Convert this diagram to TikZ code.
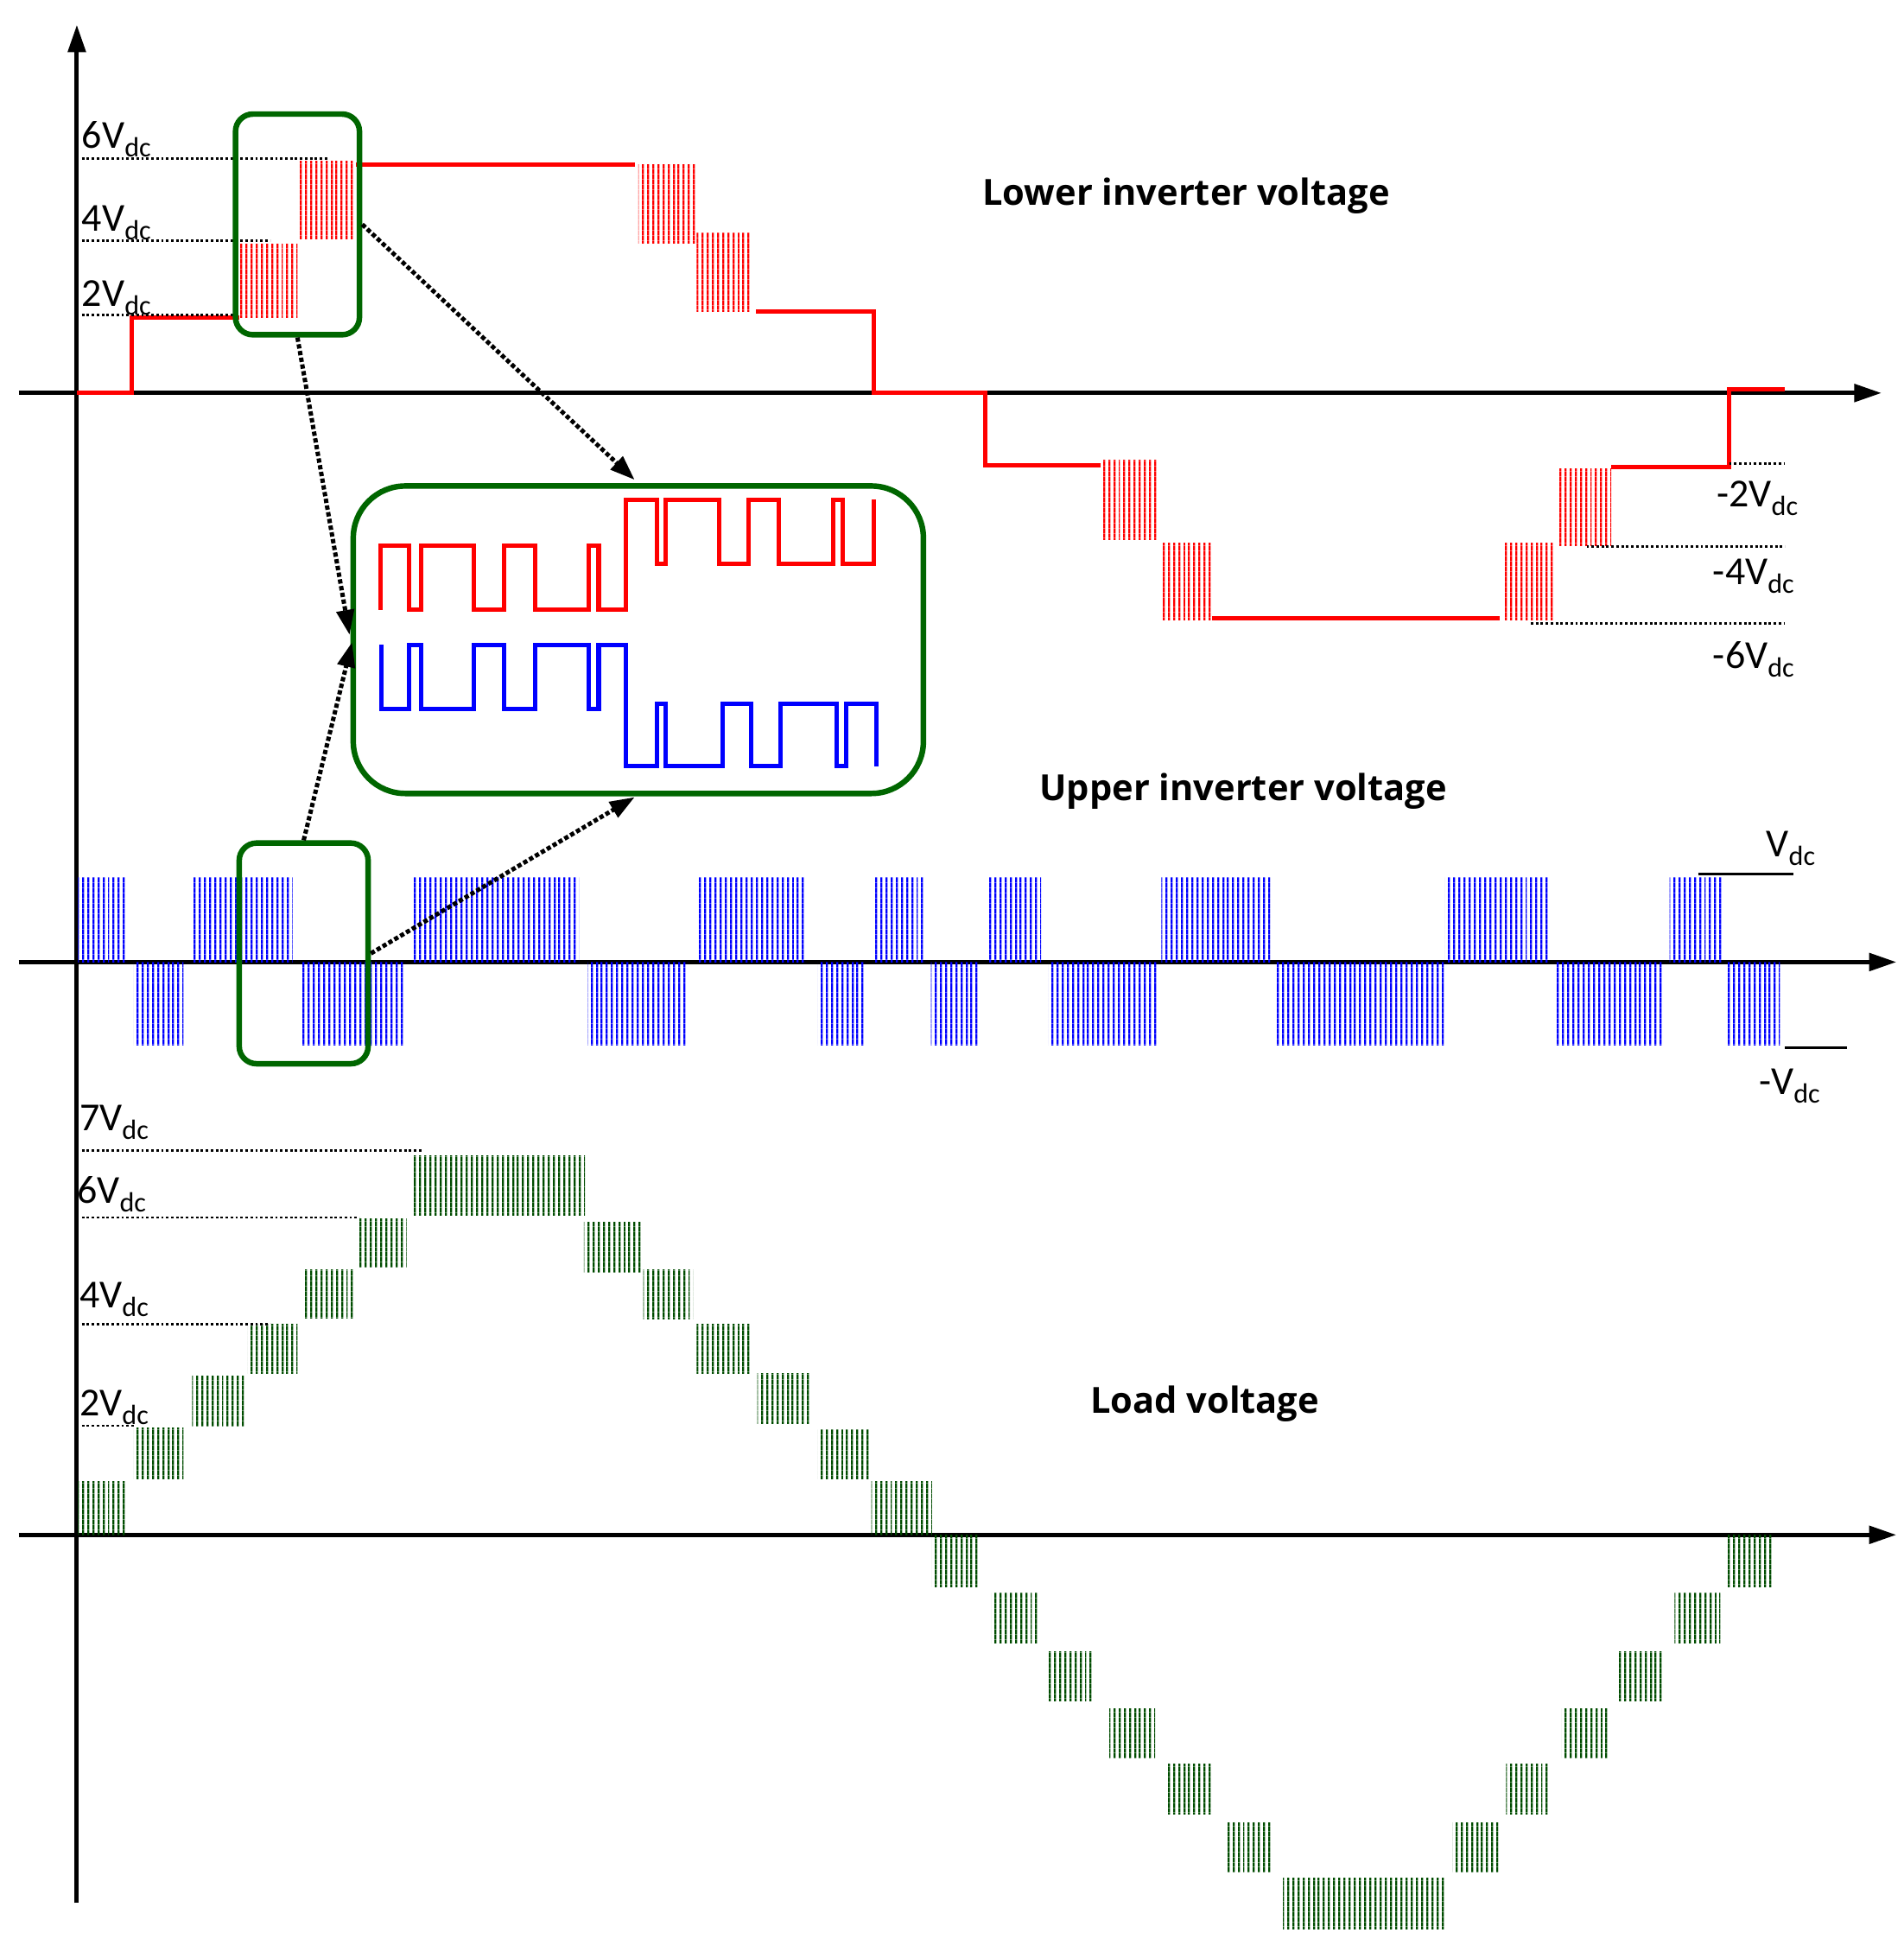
\documentclass[tikz,border=0pt]{standalone}
\usepackage{fontspec}
\setmainfont{Carlito}
\newfontfamily\tf{Open Sans}
\usetikzlibrary{patterns.meta,arrows.meta}
\begin{document}
\begin{tikzpicture}[x=1pt,y=-1pt,
 ax/.style={line width=3.5pt,-{Triangle[length=22pt,width=14pt]}},
 hr/.style={pattern={Lines[angle=90,distance=4pt,line width=1.7pt]},pattern color=red},
 hbl/.style={pattern={Lines[angle=90,distance=4pt,line width=1.7pt]},pattern color=blue},
 hg/.style={pattern={Lines[angle=90,distance=4pt,line width=1.7pt]},pattern color=green!30!black},
 dt/.style={dotted,line width=2pt},
 lb/.style={font=\fontsize{32}{34}\selectfont,inner sep=0pt},
 tt/.style={font=\tf\bfseries\fontsize{29}{32}\selectfont},
 gb/.style={draw=green!40!black,line width=4.5pt,rounded corners=14pt},
 da/.style={dotted,line width=3.5pt,-{Triangle[length=20pt,width=14pt]}},
 wr/.style={red,line width=3.5pt},
 wb/.style={blue,line width=3.5pt}]
\useasboundingbox (0,0) rectangle (1536,1564);
% axes
\draw[ax] (62,1535) -- (62,20);
\draw[ax] (15,317) -- (1518,317);
\draw[ax] (15,776) -- (1530,776);
\draw[ax] (15,1238) -- (1530,1238);
% lower inverter
\draw[wr] (62,317)--(106,317)--(106,256)--(193,256);
\fill[hr] (193,197) rectangle (240,256);
\fill[hr] (241,130) rectangle (287,193);
\draw[wr] (287,133)--(512,133);
\fill[hr] (515,133) rectangle (562,196);
\fill[hr] (562,188) rectangle (606,251);
\draw[wr] (610,251)--(705,251)--(705,317)--(795,317)--(795,375)--(888,375);
\fill[hr] (888,371) rectangle (935,435);
\fill[hr] (937,438) rectangle (978,500);
\draw[wr] (978,499)--(1210,499);
\fill[hr] (1213,438) rectangle (1253,500);
\fill[hr] (1256,378) rectangle (1300,440);
\draw[wr] (1300,377)--(1395,377)--(1395,314)--(1440,314);
\draw[dt] (66,128)--(265,128); \draw[dt] (66,194)--(218,194); \draw[dt] (66,254)--(193,254);
\node[lb,anchor=west] at (66,112) {6V\textsubscript{dc}};
\node[lb,anchor=west] at (66,180) {4V\textsubscript{dc}};
\node[lb,anchor=west] at (66,240) {2V\textsubscript{dc}};
\draw[dt] (1395,374)--(1440,374); \draw[dt] (1280,441)--(1440,441); \draw[dt] (1235,503)--(1440,503);
\node[lb] at (1418,402) {-2V\textsubscript{dc}};
\node[lb] at (1415,465) {-4V\textsubscript{dc}};
\node[lb] at (1415,532) {-6V\textsubscript{dc}};
\node[tt] at (957,158) {Lower inverter voltage};
\node[tt] at (1003,638) {Upper inverter voltage};
\node[tt] at (972,1132) {Load voltage};
% upper inverter hatches
\foreach \a/\b in {63/103,155/236,333/467,562/650,706/745,797/840,937/1025,1166/1250,1347/1390}
  \fill[hbl] (\a,708) rectangle (\b,776);
\foreach \a/\b in {108/148,242/327,474/555,660/699,751/790,846/935,1029/1165,1254/1342,1394/1436}
  \fill[hbl] (\a,776) rectangle (\b,843);
\draw[line width=2pt] (1370,705)--(1447,705);
\draw[line width=2pt] (1440,845)--(1490,845);
\node[lb] at (1445,684) {V\textsubscript{dc}};
\node[lb] at (1444,876) {-V\textsubscript{dc}};
% boxes
\node[gb,minimum width=100pt,minimum height=178pt] (z1) at (240,181) {};
\node[gb,minimum width=104pt,minimum height=178pt] (z2) at (245,769) {};
\node[gb,rounded corners=42pt,minimum width=460pt,minimum height=248pt] (ins) at (515,516) {};
% inset waveforms
\draw[wr] (307,492)--(307,440)--(330,440)--(330,492)--(340,492)--(340,440)--(382,440)--(382,492)--(407,492)--(407,440)--(432,440)--(432,492)--(475,492)--(475,440)--(483,440)--(483,492)--(505,492)--(505,403)--(530,403)--(530,455)--(537,455)--(537,403)--(580,403)--(580,455)--(604,455)--(604,403)--(628,403)--(628,455)--(672,455)--(672,403)--(680,403)--(680,455)--(705,455)--(705,403);
\draw[wb] (308,520)--(308,572)--(330,572)--(330,520)--(340,520)--(340,572)--(382,572)--(382,520)--(407,520)--(407,572)--(432,572)--(432,520)--(475,520)--(475,572)--(483,572)--(483,520)--(505,520)--(505,618)--(530,618)--(530,568)--(537,568)--(537,618)--(583,618)--(583,568)--(606,568)--(606,618)--(630,618)--(630,568)--(675,568)--(675,618)--(683,618)--(683,568)--(707,568)--(707,618);
% dotted arrows
\coordinate (t1) at (512,387); \coordinate (t2) at (282,512);
\coordinate (t3) at (284,518); \coordinate (t4) at (512,643);
\draw[da] (z1.east) -- (t1);
\draw[da] (z1.south) -- (t2);
\draw[da] (z2.north) -- (t3);
\draw[da] (z2.east) -- (t4);
% load voltage
\foreach \a/\b/\c/\d in {63/1195/103/1238,108/1152/148/1193,155/1110/197/1150,200/1068/240/1108,246/1024/285/1063,289/983/328/1022,333/932/472/980,471/986/517/1026,519/1024/559/1064,562/1068/607/1108,611/1108/654/1148,660/1153/703/1193,703/1195/752/1238,752/1238/790/1280,800/1285/837/1325,846/1332/883/1372,895/1378/932/1418,941/1423/978/1463,990/1470/1027/1510,1035/1515/1166/1556,1172/1470/1209/1510,1215/1423/1251/1463,1260/1378/1297/1418,1305/1332/1342/1372,1351/1285/1388/1325,1394/1238/1430/1280}
  \fill[hg] (\a,\b) rectangle (\c,\d);
\draw[dt] (66,928)--(340,928); \draw[dt] (66,982)--(290,982); \draw[dt] (66,1068)--(218,1068); \draw[dt] (66,1150)--(108,1150);
\node[lb,anchor=west] at (64,905) {7V\textsubscript{dc}};
\node[lb,anchor=west] at (62,963) {6V\textsubscript{dc}};
\node[lb,anchor=west] at (64,1048) {4V\textsubscript{dc}};
\node[lb,anchor=west] at (64,1135) {2V\textsubscript{dc}};
\end{tikzpicture}
\end{document}
